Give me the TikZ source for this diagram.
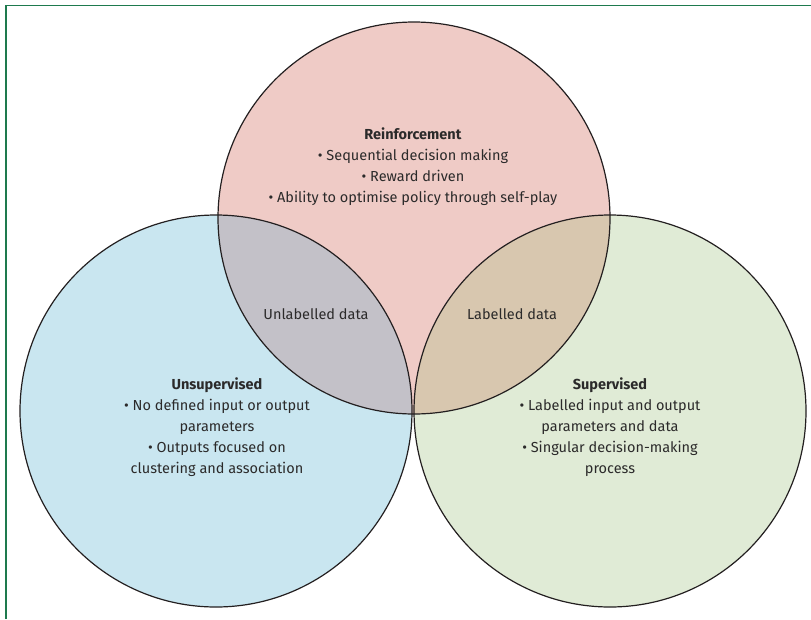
\documentclass[tikz,border=0pt]{standalone}
\usepackage{fontspec}
\setmainfont{Fira Sans}
\definecolor{frame}{HTML}{1E7A4E}
\definecolor{redf}{HTML}{EFCBC6}
\definecolor{bluef}{HTML}{C9E6F0}
\definecolor{greenf}{HTML}{E0EBD6}
\definecolor{greyf}{HTML}{C3C1C8}
\definecolor{tanf}{HTML}{D8C7AF}
\definecolor{ink}{HTML}{231F20}
\definecolor{txt}{HTML}{2B2A2A}
\tikzset{
  ring/.style={draw=ink, line width=1.2pt},
  lbl/.style={align=center, text=txt, font=\fontsize{14.5}{21}\selectfont, inner sep=0pt},
}
\begin{document}
\begin{tikzpicture}[x=1pt,y=-1pt]
\useasboundingbox (0,0) rectangle (811,619);
\coordinate (cR) at (414,218);
\coordinate (cU) at (216,411);
\coordinate (cS) at (610,411);
\fill[redf] (cR) circle (196);
\fill[bluef] (cU) circle (196);
\fill[greenf] (cS) circle (196);
\begin{scope}
  \clip (cR) circle (196);
  \fill[greyf] (cU) circle (196);
  \fill[tanf] (cS) circle (196);
\end{scope}
\draw[ring] (cR) circle (196);
\draw[ring] (cU) circle (196);
\draw[ring] (cS) circle (196);
\draw[frame, line width=1.1pt] (6,619) -- (6,5.5) -- (811,5.5);
\node[lbl] (rein) at (413,167) {\textbf{Reinforcement}\\• Sequential decision making\\• Reward driven\\• Ability to optimise policy through self-play};
\node[lbl] (unl) at (316,314) {Unlabelled data};
\node[lbl] (lab) at (512,314) {Labelled data};
\node[lbl] (uns) at (217,427) {\textbf{Unsupervised}\\• No defined input or output\\parameters\\• Outputs focused on\\clustering and association};
\node[lbl] (sup) at (610,427) {\textbf{Supervised}\\• Labelled input and output\\parameters and data\\• Singular decision-making\\process};
\end{tikzpicture}
\end{document}
